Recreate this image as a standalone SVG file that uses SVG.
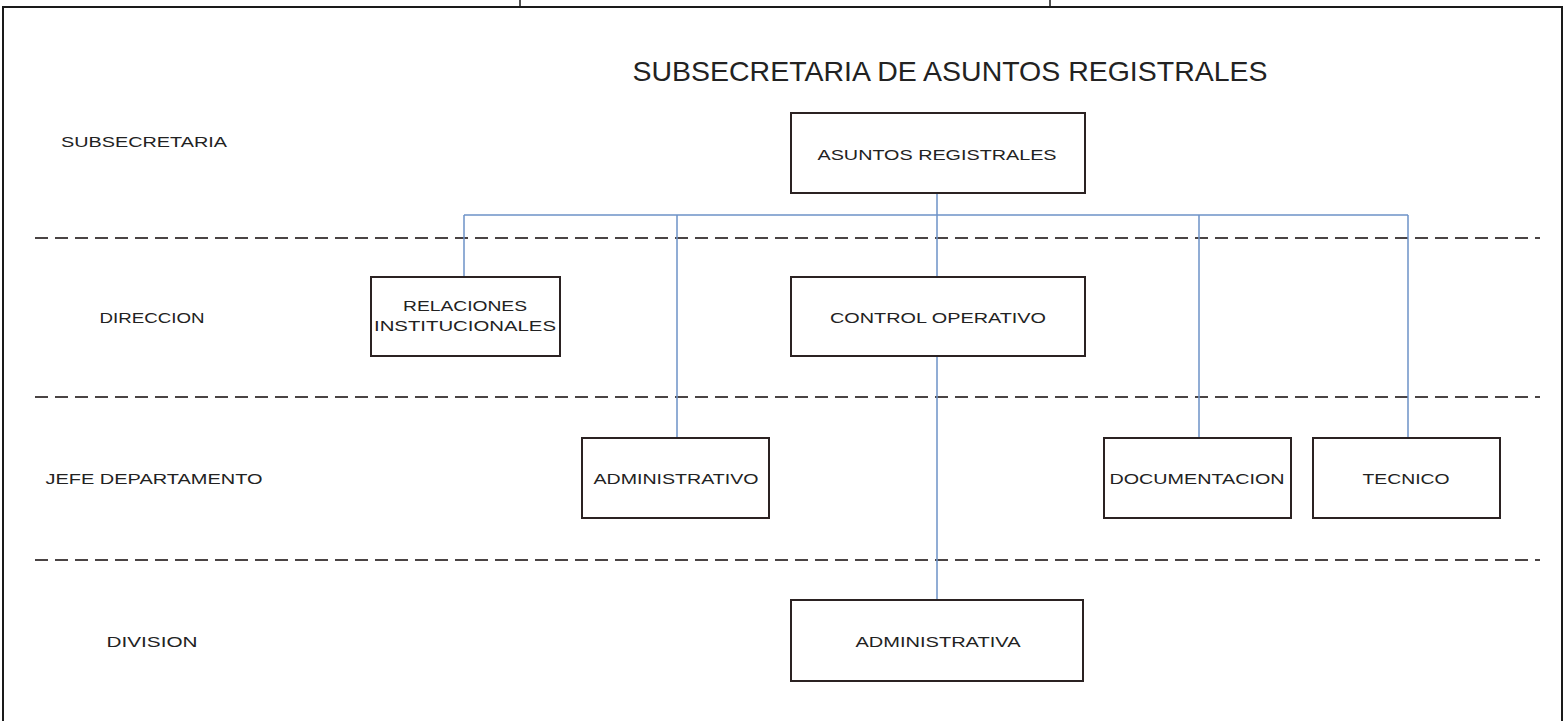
<svg xmlns="http://www.w3.org/2000/svg" width="1565" height="721" viewBox="0 0 1565 721">
<style>
.frame{fill:none;stroke:#1a1a1a;stroke-width:2}
.box{fill:#fff;stroke:#2b2222;stroke-width:2}
.dash{fill:none;stroke:#4a4444;stroke-width:2;stroke-dasharray:13 7}
.conn{fill:none;stroke:#6d93c8;stroke-width:1.5}
.t{font-family:"Liberation Sans",Arial,sans-serif;font-size:15px;fill:#222;text-anchor:middle}
.lvl{font-family:"Liberation Sans",Arial,sans-serif;font-size:15px;fill:#222;text-anchor:middle}
.title{font-family:"Liberation Sans",Arial,sans-serif;font-size:28px;fill:#222;text-anchor:middle}
</style>
<rect width="1565" height="721" fill="#fff"/>
<g id="frame">
<path class="frame" d="M3,730 V7 H1562 V730"/>
<path class="frame" d="M520,0 V7 M1050,0 V7" style="stroke-width:1.5"/>
</g>
<text class="title" x="950" y="81" textLength="635" lengthAdjust="spacingAndGlyphs">SUBSECRETARIA DE ASUNTOS REGISTRALES</text>
<g id="levels">
<text class="lvl" x="144" y="147" textLength="166" lengthAdjust="spacingAndGlyphs">SUBSECRETARIA</text>
<text class="lvl" x="152" y="323" textLength="105" lengthAdjust="spacingAndGlyphs">DIRECCION</text>
<text class="lvl" x="154" y="484" textLength="217" lengthAdjust="spacingAndGlyphs">JEFE DEPARTAMENTO</text>
<text class="lvl" x="152" y="647" textLength="91" lengthAdjust="spacingAndGlyphs">DIVISION</text>
<path class="dash" d="M35,238 H1540 M35,397 H1540 M35,560 H1540"/>
</g>
<g id="connectors">
<path class="conn" d="M937,193 V277 M464,215 H1408 M464,215 V277 M677,215 V438 M1199,215 V438 M1408,215 V438 M937,356 V600"/>
</g>
<g id="n-asuntos">
<rect class="box" x="791" y="113" width="294" height="80"/>
<text class="t" x="937" y="160" textLength="239" lengthAdjust="spacingAndGlyphs">ASUNTOS REGISTRALES</text>
</g>
<g id="n-relaciones">
<rect class="box" x="371" y="277" width="189" height="79"/>
<text class="t" x="465" y="311" textLength="124" lengthAdjust="spacingAndGlyphs">RELACIONES</text>
<text class="t" x="465" y="331" textLength="182" lengthAdjust="spacingAndGlyphs">INSTITUCIONALES</text>
</g>
<g id="n-control">
<rect class="box" x="791" y="277" width="294" height="79"/>
<text class="t" x="938" y="323" textLength="216" lengthAdjust="spacingAndGlyphs">CONTROL OPERATIVO</text>
</g>
<g id="n-administrativo">
<rect class="box" x="582" y="438" width="187" height="80"/>
<text class="t" x="676" y="484" textLength="165" lengthAdjust="spacingAndGlyphs">ADMINISTRATIVO</text>
</g>
<g id="n-documentacion">
<rect class="box" x="1104" y="438" width="187" height="80"/>
<text class="t" x="1197" y="484" textLength="175" lengthAdjust="spacingAndGlyphs">DOCUMENTACION</text>
</g>
<g id="n-tecnico">
<rect class="box" x="1313" y="438" width="187" height="80"/>
<text class="t" x="1406" y="484" textLength="87" lengthAdjust="spacingAndGlyphs">TECNICO</text>
</g>
<g id="n-administrativa">
<rect class="box" x="791" y="600" width="292" height="81"/>
<text class="t" x="938" y="647" textLength="165" lengthAdjust="spacingAndGlyphs">ADMINISTRATIVA</text>
</g>
</svg>
